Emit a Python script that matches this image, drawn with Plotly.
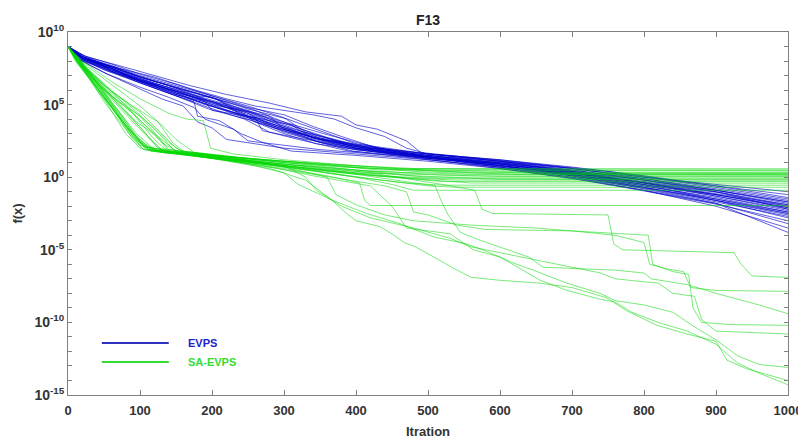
import plotly.graph_objects as go

# ---- axis ticks ----
x_ticks = [0, 100, 200, 300, 400, 500, 600, 700, 800, 900, 1000]
y_decades = list(range(-15, 11))
y_label_decades = [-15, -10, -5, 0, 5, 10]

# ---- EVPS runs: (iteration, log10 f(x)) ----
evps_runs = [
    [(0,9.0),(20,8.3),(60,7.6),(100,6.9),(140,6.3),(180,5.6),(200,5.5),(230,4.8),(280,4.2),(300,3.3),(350,2.6),(400,2.1),(450,1.7),(500,1.5),(600,1.0),(700,0.5),(800,-0.2),(900,-0.9),(1000,-1.7)],
    [(0,9.0),(15,8.2),(50,7.4),(100,6.6),(150,5.7),(190,5.2),(200,4.6),(260,4.1),(270,3.2),(320,2.7),(400,2.0),(500,1.4),(600,0.8),(700,0.2),(800,-0.6),(900,-1.4),(1000,-2.4)],
    [(0,9.0),(20,8.1),(60,7.3),(110,6.5),(160,5.8),(200,5.0),(250,4.5),(300,3.5),(330,2.9),(380,2.3),(450,1.6),(520,1.3),(600,1.0),(700,0.4),(800,-0.4),(900,-1.2),(1000,-2.1)],
    [(0,9.0),(25,8.3),(70,7.7),(120,7.0),(170,6.3),(220,5.7),(280,5.1),(330,4.5),(380,4.2),(400,3.6),(430,3.3),(470,2.5),(490,1.7),(550,1.4),(650,0.9),(750,0.4),(850,-0.3),(1000,-1.2)],
    [(0,9.0),(20,8.2),(70,7.5),(120,6.9),(170,6.1),(220,5.4),(260,4.9),(300,4.6),(340,4.3),(370,4.0),(400,3.4),(440,2.8),(470,2.0),(500,1.6),(600,1.1),(700,0.6),(800,0.0),(900,-0.5),(1000,-1.0)],
    [(0,9.0),(15,8.1),(50,7.2),(90,6.3),(130,5.4),(160,4.9),(180,3.8),(200,3.4),(220,2.6),(260,2.3),(300,2.0),(400,1.6),(500,1.2),(600,0.7),(700,0.1),(800,-0.7),(900,-1.6),(1000,-2.8)],
    [(0,9.0),(20,8.0),(55,7.1),(100,6.2),(140,5.5),(175,4.8),(190,4.0),(230,3.3),(250,2.5),(300,2.2),(350,1.9),(450,1.5),(550,1.1),(650,0.5),(750,-0.2),(850,-1.0),(1000,-2.5)],
    [(0,9.0),(20,8.2),(60,7.3),(100,6.5),(150,5.6),(175,5.2),(180,4.2),(210,3.9),(240,3.0),(270,2.4),(310,1.8),(400,1.5),(500,1.1),(600,0.6),(700,-0.1),(800,-0.9),(900,-1.8),(1000,-3.2)],
    [(0,9.0),(20,8.4),(60,7.8),(100,7.1),(150,6.4),(200,5.6),(250,4.9),(300,4.1),(330,3.1),(370,2.6),(420,2.0),(500,1.6),(600,1.2),(700,0.7),(800,0.1),(900,-0.6),(1000,-1.4)],
    [(0,9.0),(20,8.2),(60,7.5),(100,6.7),(150,5.9),(200,5.1),(240,4.5),(260,3.8),(300,3.2),(350,2.4),(400,1.9),(500,1.3),(600,0.9),(700,0.3),(800,-0.5),(900,-1.3),(1000,-2.2)],
    [(0,9.0),(25,8.3),(65,7.5),(110,6.8),(160,6.0),(210,5.3),(240,4.3),(310,3.6),(340,2.7),(410,2.2),(490,1.5),(610,1.0),(690,0.4),(790,-0.3),(910,-1.1),(1000,-2.0)],
    [(0,9.0),(15,8.1),(55,7.4),(95,6.6),(140,5.8),(195,4.8),(245,4.0),(280,3.1),(320,2.6),(390,1.8),(510,1.3),(590,0.8),(710,0.2),(810,-0.6),(890,-1.5),(1000,-2.6)],
    [(0,9.0),(20,8.3),(60,7.6),(105,6.8),(155,6.1),(205,5.4),(255,4.7),(295,3.9),(345,2.9),(405,2.1),(495,1.4),(605,0.9),(695,0.3),(805,-0.4),(895,-1.1),(1000,-1.9)],
    [(0,9.0),(20,8.2),(60,7.5),(95,6.7),(145,5.9),(190,5.0),(250,4.2),(305,3.3),(355,2.5),(395,2.0),(505,1.2),(600,0.6),(705,-0.1),(795,-0.9),(905,-1.9),(1000,-3.0)],
    [(0,9.0),(20,8.2),(65,7.6),(100,6.9),(150,6.2),(205,5.4),(245,4.6),(300,3.8),(355,3.0),(400,2.4),(450,1.8),(500,1.5),(600,1.1),(700,0.6),(800,-0.1),(900,-0.8),(1000,-1.6)],
    [(0,9.0),(20,8.1),(55,7.3),(100,6.5),(150,5.6),(195,4.7),(255,3.9),(300,3.0),(345,2.3),(400,1.9),(500,1.4),(595,0.7),(700,0.0),(805,-0.8),(900,-1.7),(1000,-2.7)],
    [(0,9.0),(20,8.3),(60,7.7),(100,7.0),(150,6.3),(200,5.6),(250,4.8),(300,4.3),(340,3.5),(380,2.8),(430,2.0),(500,1.6),(600,1.2),(700,0.6),(800,0.0),(900,-0.7),(1000,-1.5)],
    [(0,9.0),(25,8.2),(60,7.4),(110,6.6),(150,5.8),(210,5.1),(250,4.4),(290,3.4),(350,2.6),(410,2.1),(500,1.5),(600,1.0),(690,0.5),(800,-0.1),(900,-0.9),(1000,-1.8)],
    [(0,9.0),(20,8.2),(60,7.4),(100,6.7),(155,6.0),(200,5.2),(245,4.3),(300,3.1),(350,2.4),(395,1.8),(500,1.2),(600,0.7),(700,0.0),(800,-0.9),(900,-2.0),(1000,-3.5)],
    [(0,9.0),(20,8.3),(60,7.6),(100,6.9),(150,6.2),(200,5.5),(250,4.7),(305,4.0),(350,3.2),(400,2.3),(500,1.6),(600,1.1),(700,0.5),(800,-0.2),(900,-1.0),(1000,-2.2)],
    [(0,9.0),(20,8.2),(60,7.5),(100,6.6),(150,5.7),(200,4.9),(250,4.0),(300,3.2),(350,2.5),(400,2.0),(500,1.3),(600,0.8),(700,0.2),(800,-0.5),(900,-1.2),(1000,-2.0)],
    [(0,9.0),(20,8.1),(60,7.3),(100,6.6),(150,5.9),(200,5.2),(250,4.4),(300,3.5),(350,2.8),(400,2.2),(500,1.4),(600,0.9),(700,0.3),(800,-0.4),(900,-1.3),(1000,-2.3)],
    [(0,9.0),(20,8.2),(60,7.6),(100,6.8),(150,6.0),(200,5.2),(250,4.5),(300,3.7),(350,2.9),(400,2.0),(500,1.4),(600,0.95),(700,0.4),(800,-0.2),(900,-0.9),(1000,-1.7)],
    [(0,9.0),(20,8.3),(60,7.5),(100,6.7),(150,5.9),(200,5.0),(250,4.1),(300,3.3),(350,2.6),(400,2.1),(500,1.5),(600,0.9),(700,0.2),(800,-0.7),(900,-1.6),(1000,-2.5)],
    [(0,9.0),(20,8.2),(60,7.5),(100,6.8),(150,6.0),(200,5.3),(250,4.6),(300,3.6),(350,2.7),(400,2.1),(500,1.4),(600,0.9),(700,0.3),(800,-0.4),(900,-1.2),(1000,-2.1)],
    [(0,9.0),(20,8.1),(60,7.4),(100,6.6),(150,5.8),(200,4.9),(250,4.1),(300,3.3),(350,2.4),(400,1.9),(500,1.3),(600,0.8),(700,0.1),(800,-0.7),(900,-1.5),(1000,-2.4)],
    [(0,9.0),(20,8.2),(60,7.5),(100,6.7),(150,5.9),(200,5.1),(250,4.3),(300,3.4),(350,2.6),(400,2.0),(500,1.4),(600,0.8),(700,0.1),(800,-0.8),(900,-1.8),(1000,-3.8)],
    [(0,9.0),(20,8.2),(60,7.4),(100,6.6),(150,5.7),(200,4.9),(250,4.2),(300,3.4),(350,2.7),(400,2.2),(500,1.6),(600,1.1),(700,0.4),(800,-0.3),(900,-1.0),(1000,-1.9)],
]

# ---- SA-EVPS runs that stall near 1e0 ----
sa_evps_stalled = [
    [(0,9),(10,8.0),(30,6.8),(60,4.9),(90,2.8),(110,1.9),(200,1.5),(300,1.1),(400,0.8),(460,0.6),(1000,0.58)],
    [(0,9),(15,7.9),(40,6.5),(75,4.6),(110,2.8),(130,1.8),(250,1.3),(350,0.9),(430,0.5),(1000,0.45)],
    [(0,9),(10,8.2),(35,6.9),(70,5.0),(105,3.2),(125,2.0),(220,1.4),(320,1.0),(480,0.4),(530,0.3),(1000,0.3)],
    [(0,9),(20,8.0),(60,6.6),(100,5.4),(140,4.4),(165,4.0),(188,3.9),(198,2.0),(230,1.6),(300,1.2),(420,0.7),(560,0.3),(620,0.2),(1000,0.2)],
    [(0,9),(20,7.7),(50,5.8),(80,3.6),(100,2.4),(120,1.8),(200,1.4),(300,0.9),(400,0.5),(520,0.15),(1000,0.12)],
    [(0,9),(15,7.9),(45,6.2),(85,4.6),(120,3.0),(140,1.8),(250,1.2),(350,0.6),(450,0.2),(500,0.0),(1000,0.0)],
    [(0,9),(20,7.7),(60,5.6),(100,4.2),(125,2.8),(150,1.8),(260,1.2),(380,0.6),(480,0.1),(600,-0.15),(1000,-0.18)],
    [(0,9),(10,8.1),(40,6.4),(70,4.5),(95,2.7),(115,1.8),(200,1.3),(300,0.7),(400,0.2),(470,-0.1),(520,-0.3),(1000,-0.3)],
    [(0,9),(20,7.8),(55,6.0),(95,4.4),(120,3.4),(140,2.4),(160,1.7),(280,0.9),(380,0.4),(480,-0.1),(560,-0.4),(1000,-0.41)],
    [(0,9),(15,7.7),(45,5.8),(80,3.5),(110,2.1),(130,1.7),(200,1.4),(300,0.7),(400,0.0),(470,-0.4),(520,-0.55),(1000,-0.55)],
    [(0,9),(25,7.6),(60,5.9),(100,4.5),(130,3.0),(150,2.0),(170,1.6),(220,1.4),(320,0.6),(420,-0.1),(500,-0.6),(540,-0.69),(1000,-0.69)],
    [(0,9),(15,7.8),(40,6.0),(65,4.5),(90,2.6),(105,1.9),(250,1.1),(330,0.5),(400,0.0),(450,-0.5),(480,-0.9),(1000,-0.9)],
    [(0,9),(20,7.8),(55,5.9),(95,3.8),(125,2.8),(140,1.9),(250,1.3),(350,0.9),(480,0.6),(650,0.5),(1000,0.5)],
    [(0,9),(15,7.9),(50,6.3),(90,4.9),(125,3.8),(145,2.4),(160,1.8),(300,1.0),(420,0.6),(600,0.4),(700,0.35),(1000,0.35)],
    [(0,9),(20,7.6),(50,5.2),(85,3.0),(105,1.9),(200,1.3),(300,0.8),(400,0.3),(600,0.05),(1000,0.05)],
    [(0,9),(10,8.2),(30,6.9),(55,5.0),(80,3.0),(100,2.0),(200,1.4),(300,0.9),(420,0.4),(560,0.2),(1000,0.2)],
    [(0,9),(25,7.5),(65,5.7),(100,3.9),(130,2.4),(150,1.8),(260,1.2),(380,0.7),(520,0.4),(700,0.25),(1000,0.25)],
    [(0,9),(15,7.8),(45,5.9),(75,3.9),(100,2.5),(125,1.8),(220,1.2),(330,0.6),(450,0.0),(540,-0.2),(1000,-0.2)],
    [(0,9),(20,7.9),(60,6.4),(100,4.9),(130,3.6),(150,2.6),(175,1.7),(250,1.1),(350,0.5),(430,0.1),(520,-0.1),(1000,-0.1)],
]

# ---- SA-EVPS runs that keep descending ----
sa_evps_deep = [
    [(0,9),(20,7.6),(55,5.2),(90,2.8),(115,1.8),(200,1.3),(300,0.6),(360,0.1),(405,-0.4),(412,-1.6),(420,-1.95),(1000,-1.95)],
    [(0,9),(15,7.9),(45,6.3),(90,4.4),(120,2.6),(140,1.7),(200,1.4),(300,0.9),(420,0.3),(520,-0.5),(565,-0.9),(575,-2.2),(590,-2.5),(750,-2.6),(758,-4.6),(770,-5.0),(925,-5.2),(935,-6.0),(950,-6.8),(1000,-6.9)],
    [(0,9),(20,7.8),(50,5.9),(80,3.9),(105,2.1),(180,1.5),(280,0.7),(340,0.2),(440,-0.6),(470,-1.0),(480,-2.4),(500,-2.6),(540,-3.3),(580,-3.6),(700,-3.7),(760,-4.0),(800,-4.5),(808,-6.0),(830,-6.3),(855,-6.5),(865,-7.6),(900,-7.8),(1000,-7.86)],
    [(0,9),(15,7.9),(50,6.0),(90,4.0),(115,2.6),(135,1.7),(300,0.8),(400,0.2),(510,-0.6),(518,-1.6),(528,-2.6),(545,-3.8),(570,-4.3),(640,-5.5),(660,-6.2),(700,-6.3),(760,-6.4),(800,-6.6),(810,-7.0),(860,-7.4),(900,-8.0),(960,-8.8),(1000,-9.4)],
    [(0,9),(25,7.5),(60,5.2),(95,3.0),(120,1.9),(200,1.4),(300,0.7),(360,0.0),(372,-1.2),(400,-1.9),(440,-2.6),(480,-3.0),(560,-3.3),(650,-3.5),(700,-3.7),(806,-4.0),(812,-6.0),(840,-6.5),(862,-6.7),(868,-9.0),(880,-10.0),(920,-10.15),(1000,-10.2)],
    [(0,9),(20,7.8),(60,6.0),(100,4.3),(130,2.8),(150,1.7),(200,1.5),(300,0.8),(330,0.0),(345,-0.9),(380,-2.0),(420,-2.8),(480,-3.5),(530,-4.2),(560,-4.8),(600,-5.2),(640,-5.6),(700,-6.2),(740,-6.6),(760,-7.0),(820,-7.3),(840,-8.0),(870,-8.2),(880,-9.8),(900,-10.6),(1000,-10.8)],
    [(0,9),(15,7.9),(40,6.2),(75,3.9),(100,2.2),(160,1.6),(250,0.9),(300,0.3),(320,-0.5),(368,-1.6),(415,-2.5),(461,-3.2),(507,-4.1),(554,-4.6),(576,-5.0),(600,-5.5),(618,-5.9),(646,-6.4),(693,-7.3),(739,-8.0),(760,-8.5),(800,-8.8),(840,-9.3),(870,-10.3),(900,-11.2),(930,-12.3),(960,-12.9),(1000,-13.1)],
    [(0,9),(20,7.7),(55,5.4),(90,3.1),(115,1.9),(200,1.3),(280,0.6),(330,-0.2),(367,-1.6),(387,-2.5),(400,-3.0),(433,-3.4),(450,-3.9),(467,-4.5),(483,-4.8),(507,-5.5),(533,-6.2),(560,-6.9),(600,-7.1),(656,-7.3),(700,-7.6),(748,-8.3),(776,-9.2),(818,-10.2),(860,-10.8),(900,-11.3),(915,-12.6),(943,-13.2),(1000,-14.0)],
    [(0,9),(15,7.8),(45,6.0),(80,3.6),(105,2.1),(180,1.5),(270,0.8),(340,0.1),(420,-0.6),(450,-2.0),(470,-3.5),(531,-3.9),(563,-5.0),(600,-5.5),(638,-6.6),(656,-7.1),(693,-7.8),(739,-8.4),(760,-8.6),(783,-9.3),(820,-10.0),(860,-10.6),(900,-11.5),(930,-12.8),(960,-13.5),(1000,-14.3)],
]

BLUE = "rgba(0,0,205,0.62)"
GREEN = "rgba(0,215,0,0.52)"

fig = go.Figure()


def add_runs(runs, color):
    for run in runs:
        xs = [p[0] for p in run]
        ys = [10 ** p[1] for p in run]
        fig.add_trace(go.Scatter(x=xs, y=ys, mode="lines",
                                 line=dict(color=color, width=1),
                                 showlegend=False, hoverinfo="skip"))


add_runs(evps_runs, BLUE)
add_runs(sa_evps_stalled, GREEN)
add_runs(sa_evps_deep, GREEN)

AX = "#808080"
FAM = "Liberation Sans, Arial"
TICKFONT = dict(family=FAM, size=13, color="#333333", weight="bold")

fig.update_xaxes(range=[0, 1000], tickvals=x_ticks, ticks="inside", ticklen=5,
                 tickcolor=AX, showline=True, linecolor=AX, linewidth=1, mirror="allticks",
                 showgrid=False, zeroline=False, tickfont=TICKFONT, automargin=False,
                 ticklabelstandoff=3,
                 title=dict(text="Itration", font=dict(family=FAM, size=13, color="#333333",
                                                       weight="bold"), standoff=12))

y_tickvals = [10.0 ** d for d in y_decades]
y_ticktext = [("10<sup>%d</sup>" % d) if d in y_label_decades else "" for d in y_decades]
fig.update_yaxes(type="log", range=[-15, 10], tickvals=y_tickvals, ticktext=y_ticktext,
                 ticks="inside", ticklen=4, tickcolor=AX, showline=True, linecolor=AX, linewidth=1,
                 mirror="allticks", showgrid=False, zeroline=False,
                 tickfont=dict(family=FAM, size=14, color="#333333", weight="bold"),
                 automargin=False,
                 title=dict(text="f(x)", font=dict(family=FAM, size=13, color="#333333",
                                                   weight="bold"), standoff=8))

# legend drawn as decorations (inside lower-left)
fig.add_shape(type="line", xref="paper", yref="paper", x0=0.047, x1=0.140, y0=0.143, y1=0.143,
              line=dict(color="#3030c0", width=2))
fig.add_shape(type="line", xref="paper", yref="paper", x0=0.047, x1=0.140, y0=0.091, y1=0.091,
              line=dict(color="#33dd33", width=2))
fig.add_annotation(xref="paper", yref="paper", x=0.164, y=0.143, xanchor="left", yanchor="middle",
                   text="<b>EVPS</b>", showarrow=False,
                   font=dict(family=FAM, size=11, color="#2323c8"))
fig.add_annotation(xref="paper", yref="paper", x=0.164, y=0.091, xanchor="left", yanchor="middle",
                   text="<b>SA-EVPS</b>", showarrow=False,
                   font=dict(family=FAM, size=11, color="#33dd33"))

# the page shows the figure 8 px in from the top-left corner
fig.update_layout(
    width=798, height=431,
    margin=dict(l=60, r=18, t=24, b=44),
    paper_bgcolor="white", plot_bgcolor="white",
    showlegend=False,
    title=dict(text="<b>F13</b>", x=0.5, xref="paper", xanchor="center", y=0.972, yanchor="middle",
               font=dict(family=FAM, size=14, color="#222222")),
)

fig.write_html("out.html")
